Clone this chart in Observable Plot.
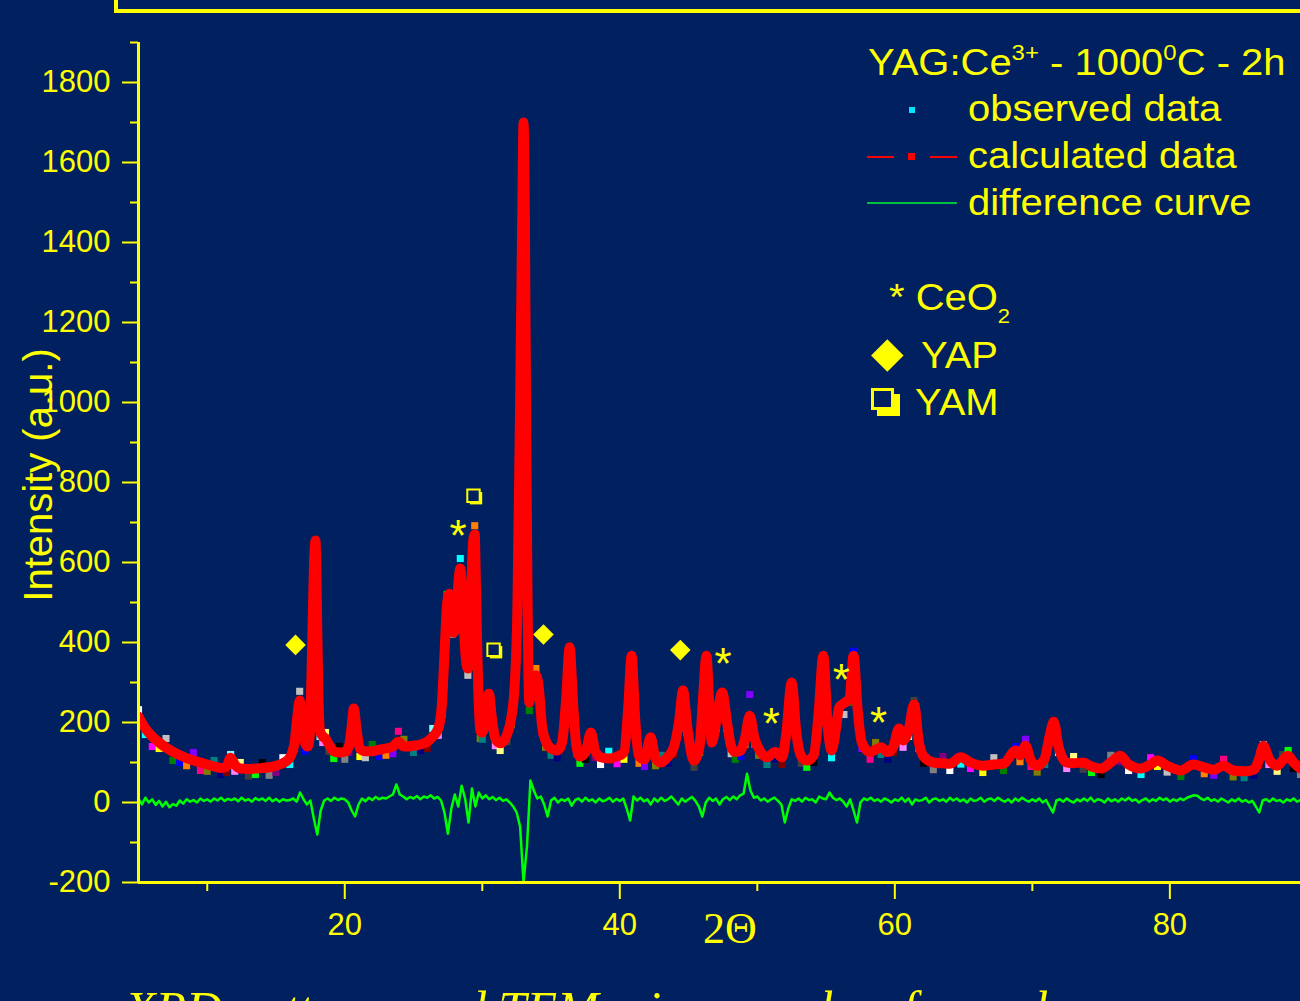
<!DOCTYPE html>
<html><head><meta charset="utf-8">
<script src="https://cdn.jsdelivr.net/npm/d3@7"></script>
<script src="https://cdn.jsdelivr.net/npm/@observablehq/plot@0.6"></script>
<style>
html,body{margin:0;padding:0;background:#002060;width:1300px;height:1001px;overflow:hidden;}
body{position:relative;font-family:"Liberation Sans",Arial,sans-serif;color:#ffff00;}
#chart{position:absolute;left:0;top:0;}
.topframe{position:absolute;left:114px;top:-10px;width:1300px;height:23px;box-sizing:border-box;border-left:4px solid #ffff00;border-bottom:4px solid #ffff00;}
.lg{position:absolute;font-size:37px;line-height:1;white-space:nowrap;transform:scaleX(1.08);transform-origin:left top;}
.sup{font-size:0.6em;vertical-align:15px;line-height:0;}
.sub{font-size:0.55em;vertical-align:-13px;line-height:0;}
.mk{position:absolute;}
.caption{position:absolute;left:125px;top:984px;font-family:"Liberation Serif","Times New Roman",serif;font-style:italic;font-size:50px;line-height:1;white-space:nowrap;color:#ffff00;}
</style></head><body>
<div class="topframe"></div>
<div id="chart"></div>

<div class="lg" style="left:868px;top:44px;">YAG:Ce<span class="sup">3+</span> - 1000<span class="sup">0</span>C - 2h</div>
<div class="mk" style="left:909px;top:107px;width:6px;height:6px;background:#00e5ff;"></div>
<div class="lg" style="left:968px;top:90px;">observed data</div>
<div class="mk" style="left:867px;top:156px;width:27px;height:2px;background:#ff0000;"></div>
<div class="mk" style="left:908px;top:153px;width:7px;height:7px;background:#ff0000;"></div>
<div class="mk" style="left:930px;top:156px;width:27px;height:2px;background:#ff0000;"></div>
<div class="lg" style="left:968px;top:137px;">calculated data</div>
<div class="mk" style="left:867px;top:202px;width:90px;height:2px;background:#00c040;"></div>
<div class="lg" style="left:968px;top:184px;">difference curve</div>
<div class="lg" style="left:889px;top:279px;">* CeO<span class="sub">2</span></div>
<div class="mk" style="left:875.7px;top:343.7px;width:22.6px;height:22.6px;background:#ffff00;transform:rotate(45deg);"></div>
<div class="lg" style="left:921px;top:337px;">YAP</div>
<div class="mk" style="left:871px;top:388px;width:23px;height:22px;box-sizing:border-box;border:3px solid #ffff00;background:#002060;box-shadow:6px 6px 0 #ffff00;"></div>
<div class="lg" style="left:915px;top:384px;">YAM</div>
<div class="caption">XRD patterns and TEM micrographs of sample</div>

<script>
// ---- data ----
const calcX = [5.0,5.5,6.0,6.5,7.0,7.5,8.0,8.5,9.0,9.5,10.0,10.5,11.0,11.4,11.7,12.0,12.4,13.0,13.5,14.0,14.5,15.0,15.5,16.0,16.35,16.55,16.72,16.9,17.1,17.3,17.45,17.62,17.75,17.87,17.97,18.07,18.2,18.4,18.6,18.85,19.2,19.6,20.0,20.3,20.5,20.66,20.85,21.1,21.5,22.0,22.5,23.0,23.5,23.9,24.3,25.0,25.5,26.0,26.4,26.8,27.05,27.25,27.45,27.6,27.8,27.95,28.15,28.4,28.6,28.8,28.95,29.15,29.35,29.45,29.55,29.7,29.85,30.0,30.25,30.48,30.7,30.95,31.3,31.8,32.1,32.35,32.55,32.75,32.9,33.0,33.1,33.2,33.3,33.42,33.6,33.9,34.1,34.35,34.6,35.0,35.45,35.8,36.1,36.35,36.6,36.85,37.1,37.5,37.9,38.2,38.6,39.2,39.8,40.3,40.6,40.86,41.1,41.4,41.8,42.24,42.6,43.0,43.5,43.9,44.3,44.6,44.9,45.4,45.8,46.05,46.3,46.5,46.7,47.0,47.45,47.8,48.1,48.4,48.8,49.1,49.45,49.8,50.1,50.7,51.3,51.8,52.1,52.5,52.85,53.2,53.6,54.1,54.45,54.8,55.1,55.4,55.7,55.95,56.3,56.7,57.0,57.3,57.6,58.2,58.6,59.0,59.5,59.9,60.3,60.6,61.0,61.4,61.75,62.1,62.8,63.5,64.0,64.8,65.5,66.4,67.2,67.9,68.8,69.1,69.5,69.9,70.35,70.9,71.25,71.56,71.9,72.5,73.0,73.7,74.3,75.0,75.7,76.4,77.0,77.9,78.6,79.1,79.8,80.8,81.7,82.5,83.2,83.9,84.6,85.4,86.1,86.5,86.8,87.2,87.8,88.2,88.6,89.0,89.5];
const calcY = [215,185,165,150,137,127,118,111,105,100,95,90,86,90,112,95,85,84,85,86,88,92,98,112,150,215,255,200,150,140,165,380,580,655,500,290,180,165,160,145,128,125,127,140,190,235,185,135,128,128,132,135,140,152,140,142,145,152,165,185,240,370,500,522,440,425,500,585,480,360,335,480,660,670,520,290,180,175,210,272,210,160,148,170,210,290,480,1000,1450,1700,1450,900,480,250,295,318,290,190,155,135,130,150,260,388,250,140,115,125,175,130,113,110,115,125,230,367,220,115,108,163,110,100,115,135,200,280,190,105,140,260,367,250,150,200,275,200,140,126,130,160,217,160,135,113,126,113,170,300,170,115,105,118,220,367,200,130,180,238,248,260,367,230,150,126,132,138,126,140,185,155,180,245,150,115,100,98,97,113,100,92,95,97,130,118,142,105,92,110,165,202,140,100,98,100,90,85,100,117,95,85,95,105,92,80,95,88,82,92,80,78,82,110,142,110,92,105,117,100,85];
const obsY = [232,170,140,135,160,105,100,92,125,80,78,105,70,75,120,78,100,66,70,100,68,75,112,95,135,200,278,185,128,155,150,400,560,645,470,310,165,150,175,128,110,140,108,125,175,225,200,115,112,145,115,118,122,178,158,125,130,135,185,168,220,350,520,500,420,440,480,610,460,380,318,500,640,692,500,270,160,158,195,262,228,142,130,152,195,305,460,980,1500,1690,1420,930,510,230,280,335,300,175,138,118,112,138,245,375,265,122,98,108,160,112,95,128,97,108,215,355,240,98,90,150,92,118,98,120,185,270,175,88,125,245,355,265,170,185,265,185,122,108,115,145,270,145,118,95,110,95,155,290,155,98,88,100,205,355,215,112,165,228,220,250,378,215,135,108,150,120,108,125,170,138,165,255,135,98,82,115,80,96,85,75,112,80,140,102,158,90,76,95,150,205,125,85,115,83,75,70,118,102,80,70,112,90,76,65,110,72,68,108,64,62,68,95,145,95,78,120,130,85,70];
const diffStart = 5, diffStep = 0.25;
const diffY = [
10,-5,12,0, 8,-6,4,-10, 2,-12,-4,-8, 5,-3,8,2, 6,0,10,4,
8,2,10,5, 12,4,9,6, 10,3,12,5, 8,2,11,6, 10,4,12,3,
9,2,8,5, 6,10,2,25, 8,-5,5,-40, -80,-20,5,10, 4,12,6,10,
8,0,-20,-35, -5,10,3,12, 6,14,8,12, 10,15,20,45, 20,15,8,14,
10,16,8,15, 12,18,10,14, 5,-25,-78,-15, 20,-10,42,10, -50,35,-10,25,
10,18,8,14, 6,12,4,8, 0,-10,-25,-60, -200,-110,55,30, 10,15,-5,-35,
5,12,0,8, 4,10,-8,6, 10,2,12,4, 8,0,10,3, 6,12,2,9,
4,10,-15,-45, 15,5,12,3, 8,-5,10,2, 12,4,8,15, 5,-5,10,2,
8,14,4,-10, -35,0,12,4, 10,-5,8,14, 6,15,8,18, 22,72,30,12,
15,5,10,2, 8,12,4,-5, -50,-15,8,4, 10,2,12,6, 8,0,15,10,
8,25,12,6, 10,2,-10,8, -20,-50,0,10, 6,12,4,8, 2,10,6,0,
8,4,12,2, 10,-5,8,4, 6,12,0,8, 10,4,8,2, 12,5,10,3,
8,0,10,4, 6,12,2,8, 10,4,12,6, 2,8,0,10, 4,12,6,2,
8,3,10,0, 6,-10,-25,5, 8,2,10,4, 0,8,3,10, 4,12,2,8,
6,0,10,3, 8,2,10,5, 12,4,8,0, 6,10,2,8, 4,12,6,10,
2,8,4,10, 6,12,15,18, 17,10,6,12, 4,8,2,10, 5,0,8,3,
10,2,6,0, 4,-10,-25,5, 8,2,10,4, 6,0,8,4, 10,2,6];
// phase markers
const ceo2X = [28.24, 47.5, 51.02, 56.11, 58.82];
const ceo2Y = [692, 372, 222, 332, 225];
const yapX = [16.42, 34.45, 44.4];
const yapY = [394, 420, 381];
const yamX = [29.36, 30.82];
const yamY = [767, 382];
// axes
const xDomain = [5, 89.5];
const yDomain = [-200, 1900];
const xTicks = [20, 40, 60, 80];
const xMinorTicks = [10, 30, 50, 70];
const yTicks = [-200, 0, 200, 400, 600, 800, 1000, 1200, 1400, 1600, 1800];
const yMinorTicks = [-100, 100, 300, 500, 700, 900, 1100, 1300, 1500, 1700, 1900];

// ---- build tables ----
const palette = ["#ffffff","#00ffff","#ff00ff","#ffff00","#c0c0c0","#008000","#0000ff","#ff8000","#8000ff","#ff0080","#808000","#008080","#000080","#800000","#80ffff","#ff80ff","#ffff80","#404040","#00ff00","#000000","#808080","#800080"];
const calcData = calcX.map((x, i) => ({x, calc: calcY[i], obs: obsY[i], col: palette[i % palette.length]}));
const diffData = diffY.map((d, i) => ({x: diffStart + i * diffStep, d}));
const ceo2 = ceo2X.map((x, i) => ({x, y: ceo2Y[i]}));
const yap = yapX.map((x, i) => ({x, y: yapY[i]}));
const yam = yamX.map((x, i) => ({x, y: yamY[i]}));

const Y = "#ffff00";
const chart = Plot.plot({
  width: 1300, height: 960,
  marginTop: 42, marginBottom: 78, marginLeft: 138, marginRight: 0,
  style: {background: "transparent", color: Y, fontFamily: '"Liberation Sans", Arial, sans-serif', overflow: "visible"},
  x: {domain: xDomain, label: null},
  y: {domain: yDomain, label: null},
  color: {type: "identity"},
  marks: [
    Plot.dot(calcData, {x: "x", y: "obs", symbol: "square", r: 4, fill: "col", clip: true}),
    Plot.line(calcData, {x: "x", y: "calc", stroke: "#ff0000", strokeWidth: 10, curve: "monotone-x", clip: true}),
    Plot.dot(calcData, {x: "x", y: "calc", symbol: "square", r: 4, fill: "#ff0000", clip: true}),
    Plot.line(diffData, {x: "x", y: "d", stroke: "#00ff00", strokeWidth: 2.5, clip: true}),
    Plot.dot(yap, {x: "x", y: "y", symbol: "square", rotate: 45, r: 8.2, fill: Y}),
    Plot.dot(yam, {x: "x", y: "y", symbol: "square", r: 7, fill: Y, dx: 2.5, dy: 2.5}),
    Plot.dot(yam, {x: "x", y: "y", symbol: "square", r: 7, fill: "#002060", stroke: Y, strokeWidth: 2}),
    Plot.text(ceo2, {x: "x", y: "y", text: () => "*", fontSize: 44, fill: Y, dy: 11}),
    Plot.axisX(xTicks, {tickSize: 17, tickPadding: 13, fontSize: 31, strokeWidth: 2, label: null, tickFormat: d => String(d)}),
    Plot.axisX(xMinorTicks, {tickSize: 9, strokeWidth: 2, label: null, tickFormat: () => ""}),
    Plot.axisY(yTicks, {tickSize: 16, tickPadding: 12, fontSize: 31, strokeWidth: 2, label: null, tickFormat: d => String(d)}),
    Plot.axisY(yMinorTicks, {tickSize: 8, strokeWidth: 2, label: null, tickFormat: () => ""}),
    Plot.ruleX([xDomain[0]], {stroke: Y, strokeWidth: 3}),
    Plot.ruleY([yDomain[0]], {stroke: Y, strokeWidth: 3})
  ]
});
document.getElementById("chart").appendChild(chart);
const svg = d3.select(chart);
svg.append("text")
  .attr("transform", "translate(51.5,475) rotate(-90)")
  .attr("text-anchor", "middle")
  .attr("font-size", 40)
  .attr("fill", Y)
  .text("Intensity (a.u.)");
svg.append("text")
  .attr("x", 730).attr("y", 943)
  .attr("text-anchor", "middle")
  .attr("font-family", '"Liberation Serif", "Times New Roman", serif')
  .attr("font-size", 44)
  .attr("fill", Y)
  .text("2Θ");
</script>
</body></html>
